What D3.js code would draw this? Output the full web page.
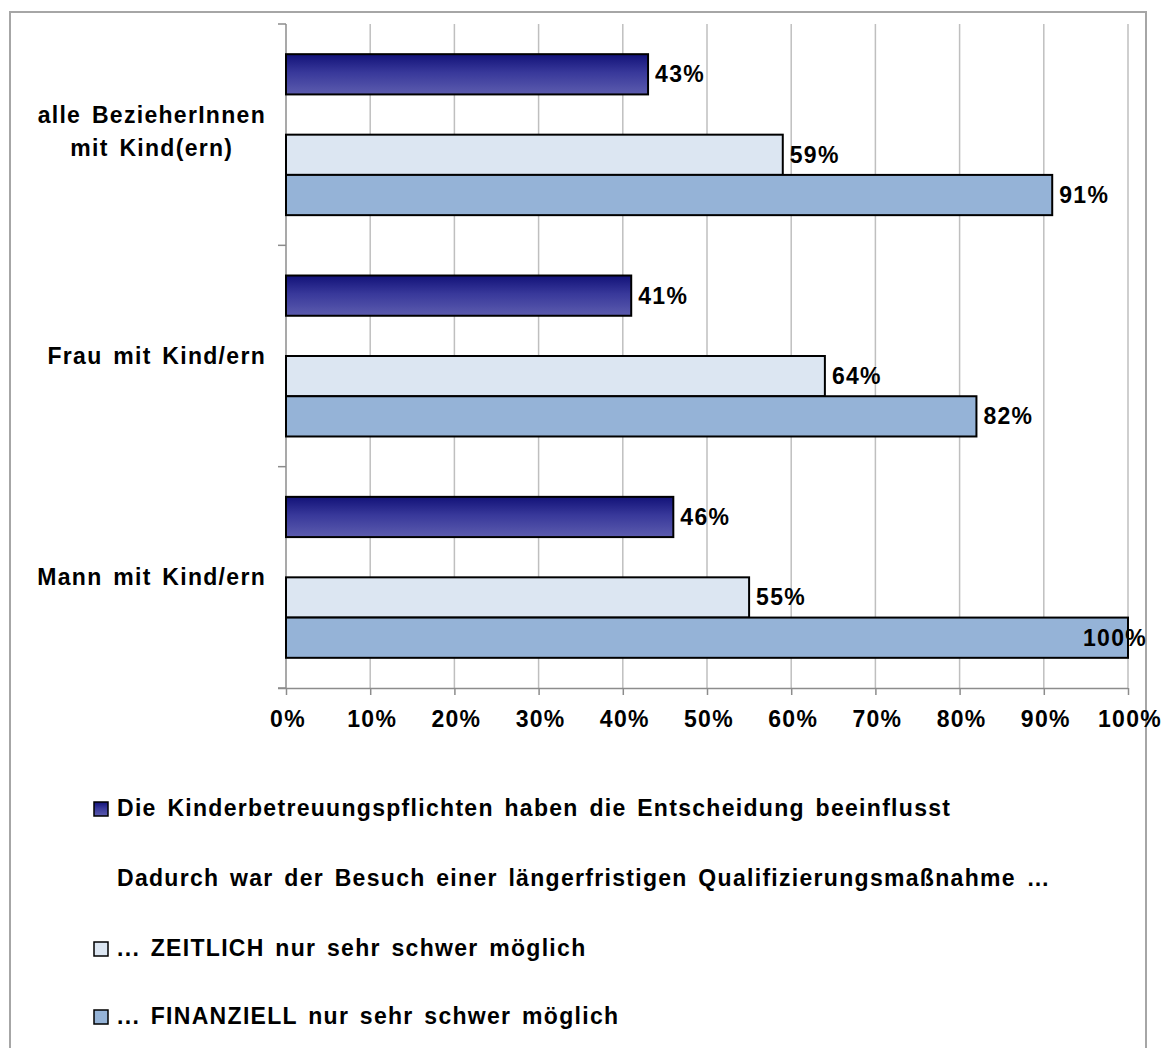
<!DOCTYPE html>
<html>
<head>
<meta charset="utf-8">
<script src="https://cdn.jsdelivr.net/npm/d3@7"></script>
<style>
  html, body { margin: 0; padding: 0; background: #fff; }
  svg text { font-family: "Liberation Sans", Arial, sans-serif; font-weight: bold; fill: #000;
             font-size: 23px; letter-spacing: 1.3px; word-spacing: 3px; }
</style>
</head>
<body>
<svg id="chart" width="1163" height="1048"></svg>
<script>
// Categories (top to bottom) and the shares per series, in percent
const categories = ["alle BezieherInnen mit Kind(ern)", "Frau mit Kind/ern", "Mann mit Kind/ern"];
const categoryLines = [["alle BezieherInnen", "mit Kind(ern)"], ["Frau mit Kind/ern"], ["Mann mit Kind/ern"]];
const influenced = [43, 41, 46];
const headerOnly = [null, null, null];
const timeHard = [59, 64, 55];
const moneyHard = [91, 82, 100];
const seriesNames = [
  "Die Kinderbetreuungspflichten haben die Entscheidung beeinflusst",
  "Dadurch war der Besuch einer längerfristigen Qualifizierungsmaßnahme …",
  "... ZEITLICH nur sehr schwer möglich",
  "... FINANZIELL nur sehr schwer möglich"
];
const xTicks = [0, 10, 20, 30, 40, 50, 60, 70, 80, 90, 100];

const seriesValues = [influenced, headerOnly, timeHard, moneyHard];
const seriesFill = ["url(#navyGrad)", "none", "#dce6f2", "#95b3d7"];

const svg = d3.select("#chart");
const defs = svg.append("defs");
const grad = defs.append("linearGradient").attr("id", "navyGrad")
  .attr("x1", 0).attr("y1", 0).attr("x2", 0).attr("y2", 1);
grad.append("stop").attr("offset", "0%").attr("stop-color", "#121278");
grad.append("stop").attr("offset", "45%").attr("stop-color", "#38389a");
grad.append("stop").attr("offset", "100%").attr("stop-color", "#5c5cae");

// Chart frame
const frame = { left: 10, top: 12, right: 1146, bottom: 1070 };
svg.append("rect")
  .attr("x", frame.left).attr("y", frame.top)
  .attr("width", frame.right - frame.left).attr("height", frame.bottom - frame.top)
  .attr("fill", "#fff").attr("stroke", "#a6a6a6").attr("stroke-width", 2);

const plot = { left: 286, right: 1128, top: 24, bottom: 688 };

const x = d3.scaleLinear().domain([0, 100]).range([plot.left, plot.right]);
const y = d3.scaleBand().domain(categories).range([plot.top, plot.bottom]).paddingInner(0).paddingOuter(0);
const ySeries = d3.scaleBand().domain(d3.range(seriesValues.length))
  .range([0, y.bandwidth()]).paddingInner(0).paddingOuter(0.75);

// Vertical gridlines
svg.append("g").selectAll("line").data(xTicks.slice(1)).join("line")
  .attr("x1", d => x(d)).attr("x2", d => x(d))
  .attr("y1", plot.top).attr("y2", plot.bottom)
  .attr("stroke", "#bfbfbf").attr("stroke-width", 1.5);

// Bottom axis
const xAxis = d3.axisBottom(x).tickValues(xTicks).tickFormat(d => d + "%").tickSize(7).tickPadding(20);
const gx = svg.append("g").attr("transform", `translate(0,${plot.bottom})`).call(xAxis);
gx.attr("font-size", null).attr("font-family", null);
gx.select(".domain").attr("stroke", "#8c8c8c").attr("stroke-width", 1.5)
  .attr("d", `M${plot.left - 8},0.5H${plot.right}`);
gx.selectAll(".tick line").attr("stroke", "#8c8c8c").attr("stroke-width", 1.5);
gx.selectAll(".tick text").attr("fill", "#000").attr("dy", "0.5em").attr("dx", 1.5);

// Left axis with ticks at the category boundaries
const boundaries = categories.map(c => y(c)).concat([plot.bottom]);
svg.append("line").attr("x1", plot.left).attr("x2", plot.left)
  .attr("y1", plot.top).attr("y2", plot.bottom)
  .attr("stroke", "#8c8c8c").attr("stroke-width", 1.5);
svg.append("g").selectAll("line").data(boundaries).join("line")
  .attr("x1", plot.left - 8).attr("x2", plot.left)
  .attr("y1", d => d).attr("y2", d => d)
  .attr("stroke", "#8c8c8c").attr("stroke-width", 1.5);

// Category labels
const catG = svg.append("g");
categories.forEach((c, i) => {
  const lines = categoryLines[i];
  const cy = y(c) + y.bandwidth() / 2;
  const lh = 33;
  const t = catG.append("text").attr("text-anchor", "middle");
  lines.forEach((ln, j) => {
    t.append("tspan").attr("x", 0)
      .attr("y", cy + 7.5 + (j - (lines.length - 1) / 2) * lh - (lines.length > 1 ? 3 : 0)).text(ln);
  });
  const w = t.node().getBBox().width;
  t.attr("transform", `translate(${266 - w / 2},0)`);
});

// Bars
const barG = svg.append("g");
seriesValues.forEach((vals, s) => {
  if (seriesFill[s] === "none") return;
  barG.append("g").selectAll("rect").data(categories.map((c, i) => ({ c, v: vals[i] }))).join("rect")
    .attr("x", x(0))
    .attr("y", d => y(d.c) + ySeries(s))
    .attr("width", d => x(d.v) - x(0))
    .attr("height", ySeries.bandwidth())
    .attr("fill", seriesFill[s])
    .attr("stroke", "#000").attr("stroke-width", 2);
});

// Value labels
const labG = svg.append("g");
seriesValues.forEach((vals, s) => {
  if (seriesFill[s] === "none") return;
  categories.forEach((c, i) => {
    const v = vals[i];
    const t = labG.append("text")
      .attr("y", y(c) + ySeries(s) + ySeries.bandwidth() / 2 + 8)
      .text(v + "%");
    const w = t.node().getBBox().width;
    let tx = x(v) + 7;
    if (tx + w > frame.right) tx = frame.right - w + 1;
    t.attr("x", tx);
  });
});

// Legend
const legendRows = [816, 886, 956, 1024];
const legG = svg.append("g");
seriesNames.forEach((name, s) => {
  const base = legendRows[s];
  if (seriesFill[s] !== "none") {
    legG.append("rect").attr("x", 94).attr("y", base - 14).attr("width", 14).attr("height", 14)
      .attr("fill", seriesFill[s]).attr("stroke", "#000").attr("stroke-width", 1.5);
  }
  legG.append("text").attr("x", 117).attr("y", base).text(name);
});
</script>
</body>
</html>
